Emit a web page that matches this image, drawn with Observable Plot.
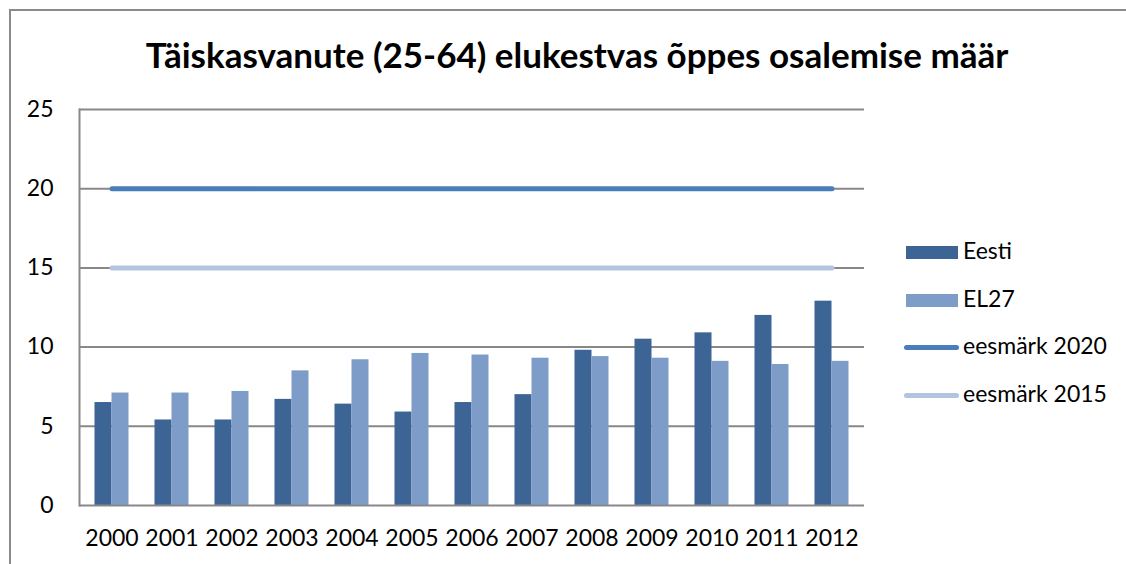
<!DOCTYPE html>
<html>
<head>
<meta charset="utf-8">
<script src="https://cdn.jsdelivr.net/npm/d3@7"></script>
<script src="https://cdn.jsdelivr.net/npm/@observablehq/plot@0.6"></script>
<style>
  html, body { margin: 0; padding: 0; background: #fff; }
  body { width: 1126px; height: 564px; position: relative; overflow: hidden; font-family: Lato, "Open Sans", sans-serif; }
  #frame { position: absolute; left: 9px; top: 9px; width: 1200px; height: 700px; border-left: 2px solid #8a8a8a; border-top: 2px solid #8a8a8a; }
  #title { position: absolute; left: 0; width: 1154px; top: 33px; text-align: center; font-weight: bold; font-size: 35px; color: #000; white-space: nowrap; }
  #chart { position: absolute; left: 0; top: 90px; }
  #legend { position: absolute; left: 904px; top: 239px; }
  .item { position: absolute; left: 0; height: 26px; white-space: nowrap; font-size: 23px; color: #000; }
  .sw { position: absolute; left: 2px; width: 52px; height: 13px; top: 7px; }
  .ln { position: absolute; left: 0; width: 55px; height: 5px; top: 11px; border-radius: 3px; }
  .lbl { position: absolute; left: 59px; top: -3px; }
</style>
</head>
<body>
<div id="frame"></div>
<div id="title"></div>
<div id="chart"></div>
<div id="legend"></div>
<script>
const titleText = "Täiskasvanute (25-64) elukestvas õppes osalemise määr";
const years = ["2000","2001","2002","2003","2004","2005","2006","2007","2008","2009","2010","2011","2012"];
const eesti = [6.5, 5.4, 5.4, 6.7, 6.4, 5.9, 6.5, 7.0, 9.8, 10.5, 10.9, 12.0, 12.9];
const el27  = [7.1, 7.1, 7.2, 8.5, 9.2, 9.6, 9.5, 9.3, 9.4, 9.3, 9.1, 8.9, 9.1];
const target2020 = 20;
const target2015 = 15;
const yTicks = [0, 5, 10, 15, 20, 25];
const seriesNames = ["Eesti", "EL27", "eesmärk 2020", "eesmärk 2015"];
const colors = {"Eesti": "#3c6595", "EL27": "#7e9cc8", "eesmärk 2020": "#4a7ebb", "eesmärk 2015": "#b3c5de"};

const rows = years.map((y, i) => ({year: y, eesti: eesti[i], el27: el27[i], t2020: target2020, t2015: target2015}));

document.getElementById("title").textContent = titleText;

const chart = Plot.plot({
  width: 880,
  height: 474,
  marginLeft: 79,
  marginRight: 16,
  marginTop: 19,
  marginBottom: 59,
  style: {fontFamily: "Lato, 'Open Sans', sans-serif", fontSize: "23px", color: "#000", background: "transparent", overflow: "visible"},
  x: {domain: years, paddingInner: 0.72, paddingOuter: 0.36, label: null},
  y: {domain: [0, 25], ticks: yTicks, label: null},
  marks: [
    Plot.ruleY(yTicks.filter(d => d > 0), {stroke: "#888", strokeWidth: 2}),
    Plot.barY(rows, {x: "year", y: "eesti", fill: colors["Eesti"], dx: -8.5}),
    Plot.barY(rows, {x: "year", y: "el27", fill: colors["EL27"], dx: 8.5}),
    Plot.lineY(rows, {x: "year", y: "t2020", stroke: colors["eesmärk 2020"], strokeWidth: 5, strokeLinecap: "round"}),
    Plot.lineY(rows, {x: "year", y: "t2015", stroke: colors["eesmärk 2015"], strokeWidth: 5, strokeLinecap: "round"}),
    Plot.ruleY([0], {stroke: "#888", strokeWidth: 2}),
    Plot.frame({anchor: "left", stroke: "#888", strokeWidth: 2}),
    Plot.axisY({ticks: yTicks, tickSize: 0, tickPadding: 26, label: null, fontSize: 23}),
    Plot.axisX({tickSize: 0, tickPadding: 24, label: null, fontSize: 23})
  ]
});
document.getElementById("chart").appendChild(chart);

const legend = document.getElementById("legend");
seriesNames.forEach((name, i) => {
  const it = document.createElement("div");
  it.className = "item";
  it.style.top = (i * 47.5) + "px";
  const sw = document.createElement("div");
  sw.className = i < 2 ? "sw" : "ln";
  sw.style.background = colors[name];
  const lb = document.createElement("div");
  lb.className = "lbl";
  lb.textContent = name;
  it.appendChild(sw);
  it.appendChild(lb);
  legend.appendChild(it);
});
</script>
</body>
</html>
